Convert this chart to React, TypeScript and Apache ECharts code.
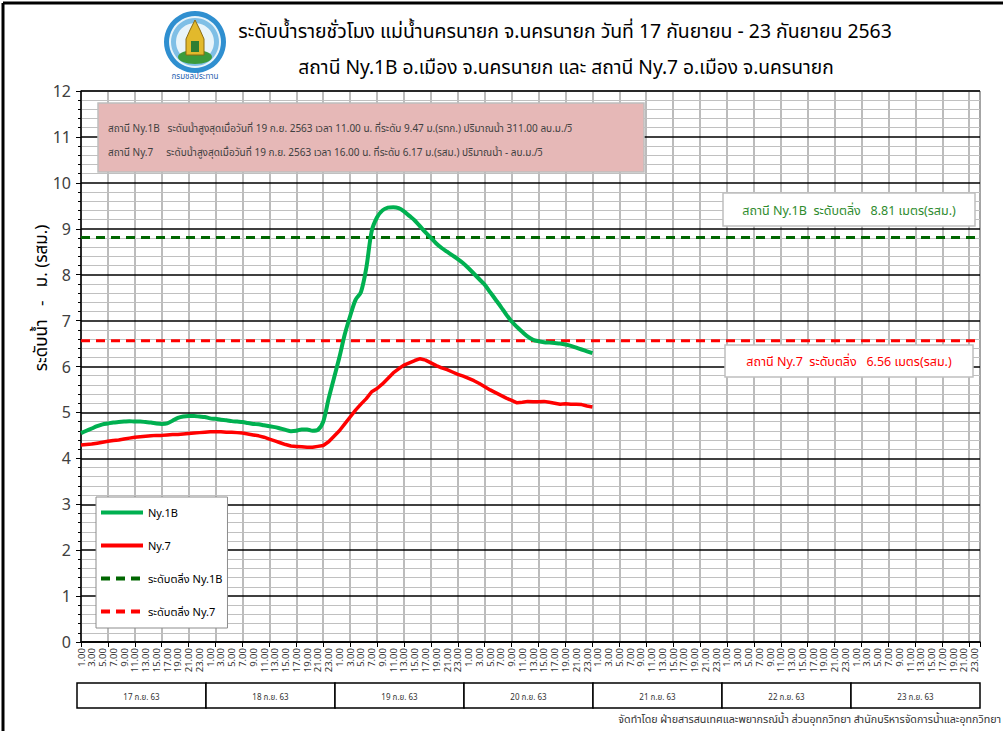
import React, { useEffect, useRef } from 'react';
import * as echarts from 'echarts';

const FONT = "Tahoma, 'Noto Sans', 'Noto Sans Thai', 'DejaVu Sans', sans-serif";

const dayLabels = ['17 ก.ย. 63', '18 ก.ย. 63', '19 ก.ย. 63', '20 ก.ย. 63', '21 ก.ย. 63', '22 ก.ย. 63', '23 ก.ย. 63'];
const hourLabels = ['1.00', '2.00', '3.00', '4.00', '5.00', '6.00', '7.00', '8.00', '9.00', '10.00', '11.00', '12.00',
  '13.00', '14.00', '15.00', '16.00', '17.00', '18.00', '19.00', '20.00', '21.00', '22.00', '23.00', '24.00'];
const categories = dayLabels.flatMap(() => hourLabels);

const yTicks = [0, 12, 1];
const xGridEvery = 5; // vertical grid line / tick every 5 hours

// Ny.1B hourly water level (m), 17 Sep 1.00 -> 20 Sep 24.00
const ny1b = [
  4.55, 4.60, 4.65, 4.70, 4.74, 4.76, 4.78, 4.79, 4.80, 4.81, 4.80, 4.80,
  4.79, 4.78, 4.76, 4.75, 4.76, 4.82, 4.88, 4.91, 4.92, 4.92, 4.91, 4.90,
  4.87, 4.86, 4.84, 4.83, 4.81, 4.80, 4.79, 4.77, 4.75, 4.74, 4.72, 4.70,
  4.68, 4.65, 4.62, 4.59, 4.60, 4.63, 4.63, 4.60, 4.62, 4.80, 5.30, 5.75,
  6.20, 6.70, 7.10, 7.45, 7.62, 8.15, 8.95, 9.25, 9.40, 9.46, 9.47, 9.45,
  9.38, 9.28, 9.18, 9.05, 8.92, 8.80, 8.68, 8.58, 8.50, 8.42, 8.34, 8.25,
  8.14, 8.02, 7.90, 7.78, 7.62, 7.46, 7.30, 7.13, 6.98, 6.86, 6.75, 6.65,
  6.58, 6.55, 6.53, 6.52, 6.51, 6.50, 6.48, 6.45, 6.41, 6.37, 6.33, 6.29,
];

// Ny.7 hourly water level (m)
const ny7 = [
  4.29, 4.30, 4.31, 4.33, 4.35, 4.37, 4.39, 4.40, 4.42, 4.44, 4.46, 4.47,
  4.48, 4.49, 4.50, 4.50, 4.51, 4.52, 4.52, 4.53, 4.54, 4.55, 4.56, 4.57,
  4.58, 4.58, 4.58, 4.57, 4.57, 4.56, 4.55, 4.53, 4.51, 4.49, 4.46, 4.42,
  4.38, 4.34, 4.30, 4.27, 4.26, 4.25, 4.24, 4.24, 4.26, 4.28, 4.36, 4.48,
  4.60, 4.75, 4.90, 5.05, 5.18, 5.30, 5.45, 5.52, 5.62, 5.74, 5.86, 5.95,
  6.03, 6.08, 6.13, 6.17, 6.14, 6.08, 6.02, 5.97, 5.93, 5.88, 5.83, 5.79,
  5.74, 5.69, 5.63, 5.56, 5.49, 5.43, 5.37, 5.31, 5.26, 5.21, 5.22, 5.24,
  5.23, 5.23, 5.24, 5.22, 5.20, 5.18, 5.19, 5.18, 5.18, 5.17, 5.14, 5.12,
];

const bankNy1B = 8.81;
const bankNy7 = 6.56;

const seriesNames = ['Ny.1B', 'Ny.7', 'ระดับตลิ่ง Ny.1B', 'ระดับตลิ่ง Ny.7'];

const titleLine1 = 'ระดับน้ำรายชั่วโมง แม่น้ำนครนายก จ.นครนายก วันที่ 17 กันยายน - 23 กันยายน 2563';
const titleLine2 = 'สถานี Ny.1B อ.เมือง จ.นครนายก และ สถานี Ny.7 อ.เมือง จ.นครนายก';
const noteLine1 = 'สถานี Ny.1B   ระดับน้ำสูงสุดเมื่อวันที่ 19 ก.ย. 2563 เวลา 11.00 น. ที่ระดับ 9.47 ม.(รทก.) ปริมาณน้ำ 311.00 ลบ.ม./วิ';
const noteLine2 = 'สถานี Ny.7     ระดับน้ำสูงสุดเมื่อวันที่ 19 ก.ย. 2563 เวลา 16.00 น. ที่ระดับ 6.17 ม.(รสม.) ปริมาณน้ำ - ลบ.ม./วิ';
const bankText1 = 'สถานี Ny.1B  ระดับตลิ่ง   8.81 เมตร(รสม.)';
const bankText2 = 'สถานี Ny.7  ระดับตลิ่ง   6.56 เมตร(รสม.)';
const yAxisName = 'ระดับน้ำ   -   ม. (รสม.)';
const footer = 'จัดทำโดย ฝ่ายสารสนเทศและพยากรณ์น้ำ ส่วนอุทกวิทยา สำนักบริหารจัดการน้ำและอุทกวิทยา';

export default function App() {
  const ref = useRef<HTMLDivElement>(null);

  useEffect(() => {
    if (!ref.current) return;
    const chart = echarts.init(ref.current, undefined, { renderer: 'svg' });

    const dayBoxLeft = 77;
    const dayBoxW = 129;
    const dayBoxes: any[] = [];
    dayLabels.forEach((d, i) => {
      dayBoxes.push({
        type: 'rect',
        shape: { x: dayBoxLeft + i * dayBoxW, y: 683, width: dayBoxW, height: 25 },
        style: { fill: '#fff', stroke: '#000', lineWidth: 1.5 },
        z: 10,
      });
      dayBoxes.push({
        type: 'text',
        x: dayBoxLeft + i * dayBoxW + dayBoxW / 2,
        y: 696,
        style: { text: d, fontSize: 8, fill: '#333', align: 'center', verticalAlign: 'middle', fontFamily: FONT },
        z: 11,
      });
    });

    const option: any = {
      animation: false,
      backgroundColor: '#fff',
      textStyle: { fontFamily: FONT },
      grid: {
        left: 81, top: 91, right: 23, bottom: 89,
        show: true, borderColor: '#404040', borderWidth: 1, backgroundColor: 'transparent',
      },
      legend: {
        orient: 'vertical',
        left: 96,
        top: 497,
        padding: [10, 5, 11, 3],
        itemGap: 22,
        itemWidth: 42,
        itemHeight: 12,
        backgroundColor: '#fff',
        borderColor: '#8c8c8c',
        borderWidth: 1,
        itemStyle: { opacity: 0 },
        lineStyle: { width: 4 },
        textStyle: { fontSize: 11, color: '#000', fontFamily: FONT },
        data: seriesNames,
      },
      xAxis: [
        {
          type: 'category',
          position: 'bottom',
          data: categories,
          boundaryGap: false,
          axisLine: { lineStyle: { color: '#000', width: 1.5 } },
          axisTick: { show: false },
          axisLabel: {
            interval: 1, rotate: 90, fontSize: 9.5, color: '#333', margin: 6, fontFamily: FONT,
          },
          splitLine: { show: false },
          z: 3,
        },
        {
          type: 'value',
          position: 'bottom',
          min: 0,
          max: categories.length - 1,
          interval: xGridEvery,
          axisLine: { show: false },
          axisLabel: { show: false },
          axisTick: { show: true, length: 5, lineStyle: { color: '#000', width: 1 } },
          splitLine: { show: true, lineStyle: { color: '#A6A6A6', width: 1.5 } },
          z: 2,
        },
      ],
      yAxis: {
        type: 'value',
        min: yTicks[0],
        max: yTicks[1],
        interval: yTicks[2],
        axisLine: { show: true, lineStyle: { color: '#000', width: 1.5 } },
        axisTick: { show: true, length: 5, lineStyle: { color: '#000' } },
        minorTick: { show: true, splitNumber: 5, length: 3, lineStyle: { color: '#000' } },
        axisLabel: { fontSize: 16, color: '#404040', margin: 10, fontFamily: FONT },
        splitLine: { show: true, lineStyle: { color: '#000', width: 1.5 } },
        minorSplitLine: { show: true, lineStyle: { color: '#C0C0C0', width: 1 } },
        z: 3,
      },
      series: [
        {
          name: seriesNames[0], type: 'line', xAxisIndex: 0, data: ny1b, smooth: 0.3, symbol: 'none',
          lineStyle: { color: '#00B050', width: 4 }, itemStyle: { color: '#00B050' }, z: 5,
        },
        {
          name: seriesNames[1], type: 'line', xAxisIndex: 0, data: ny7, smooth: false, symbol: 'none',
          lineStyle: { color: '#FF0000', width: 3.5 }, itemStyle: { color: '#FF0000' }, z: 5,
        },
        {
          name: seriesNames[2], type: 'line', xAxisIndex: 0, data: categories.map(() => bankNy1B), symbol: 'none',
          lineStyle: { color: '#006600', width: 3, type: [9, 6] }, itemStyle: { color: '#006600' }, z: 4,
        },
        {
          name: seriesNames[3], type: 'line', xAxisIndex: 0, data: categories.map(() => bankNy7), symbol: 'none',
          lineStyle: { color: '#FF0000', width: 3, type: [9, 6] }, itemStyle: { color: '#FF0000' }, z: 4,
        },
      ],
      graphic: [
        // frame
        { type: 'line', shape: { x1: 3, y1: 3, x2: 1003, y2: 3 }, style: { stroke: '#000', lineWidth: 3 } },
        { type: 'line', shape: { x1: 3, y1: 3, x2: 3, y2: 731 }, style: { stroke: '#000', lineWidth: 3 } },
        // logo
        {
          type: 'group', x: 195, y: 42,
          children: [
            { type: 'circle', shape: { cx: 0, cy: 0, r: 31 }, style: { fill: '#2F8FD0' } },
            { type: 'circle', shape: { cx: 0, cy: 0, r: 26 }, style: { fill: '#E8F4FA' } },
            { type: 'ring', shape: { cx: 0, cy: 0, r: 24, r0: 19 }, style: { fill: '#7FBFE6' } },
            { type: 'ellipse', shape: { cx: 0, cy: 15, rx: 17, ry: 7 }, style: { fill: '#3B9B3B' } },
            { type: 'polygon', shape: { points: [[-9, 13], [-9, -3], [-5, -12], [0, -22], [5, -12], [9, -3], [9, 13]] }, style: { fill: '#E2B92C', stroke: '#8A6A10', lineWidth: 1 } },
            { type: 'rect', shape: { x: -4, y: -1, width: 8, height: 11 }, style: { fill: '#2E7D32' } },
            { type: 'text', x: 0, y: 33, style: { text: 'กรมชลประทาน', fontSize: 8, fill: '#1F5FAF', align: 'center', verticalAlign: 'middle', fontFamily: FONT } },
          ],
        },
        // titles
        { type: 'text', x: 565, y: 30, style: { text: titleLine1, fontSize: 19.4, fill: '#000', align: 'center', verticalAlign: 'middle', fontFamily: FONT } },
        { type: 'text', x: 566, y: 66, style: { text: titleLine2, fontSize: 19.2, fill: '#000', align: 'center', verticalAlign: 'middle', fontFamily: FONT } },
        // y axis name
        { type: 'text', x: 40, y: 298, rotation: Math.PI / 2, style: { text: yAxisName, fontSize: 17, fill: '#000', align: 'center', verticalAlign: 'middle', fontFamily: FONT } },
        // max note box
        { type: 'rect', shape: { x: 98, y: 103, width: 546, height: 69 }, style: { fill: '#E6B8B7', stroke: '#BFBFBF', lineWidth: 1.5 }, z: 10 },
        { type: 'text', x: 108, y: 128, style: { text: noteLine1, fontSize: 10, fill: '#404040', verticalAlign: 'middle', fontFamily: FONT }, z: 11 },
        { type: 'text', x: 108, y: 152, style: { text: noteLine2, fontSize: 10, fill: '#404040', verticalAlign: 'middle', fontFamily: FONT }, z: 11 },
        // bank level boxes
        { type: 'rect', shape: { x: 723, y: 193, width: 252, height: 33 }, style: { fill: '#fff', stroke: '#BFBFBF', lineWidth: 1.5 }, z: 10 },
        { type: 'text', x: 849, y: 210, style: { text: bankText1, fontSize: 12.5, fill: '#2E8B2E', align: 'center', verticalAlign: 'middle', fontFamily: FONT }, z: 11 },
        { type: 'rect', shape: { x: 725, y: 345, width: 248, height: 32 }, style: { fill: '#fff', stroke: '#BFBFBF', lineWidth: 1.5 }, z: 10 },
        { type: 'text', x: 849, y: 361, style: { text: bankText2, fontSize: 12.5, fill: '#FF0000', align: 'center', verticalAlign: 'middle', fontFamily: FONT }, z: 11 },
        // day boxes
        ...dayBoxes,
        // footer
        { type: 'text', x: 1001, y: 719, style: { text: footer, fontSize: 10.7, fill: '#333', align: 'right', verticalAlign: 'middle', fontFamily: FONT } },
      ],
    };

    chart.setOption(option);
    return () => chart.dispose();
  }, []);

  return (
    <div
      ref={ref}
      style={{ position: 'absolute', left: 0, top: 0, width: 1003, height: 731, background: '#fff' }}
    />
  );
}
